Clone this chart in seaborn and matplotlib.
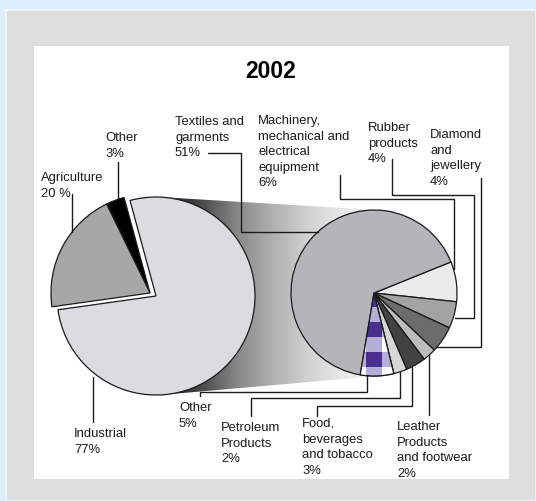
import numpy as np
import matplotlib
matplotlib.use("Agg")
import matplotlib.pyplot as plt
import matplotlib.patches as mpatches
from matplotlib.colors import to_rgb
import seaborn as sns

# ---------------------------------------------------------------- data
title = "2002"

# Economy by sector (outer pie), counter-clockwise order
sector_names = ["Industrial", "Other", "Agriculture"]
sector_share = [77, 3, 20]
sector_pct_fmt = ["{}%", "{}%", "{} %"]

# Industrial breakdown (pie of pie), clockwise order
industry_names = [
    "Machinery,\nmechanical and\nelectrical\nequipment",
    "Rubber\nproducts",
    "Diamond\nand\njewellery",
    "Leather\nProducts\nand footwear",
    "Food,\nbeverages\nand tobacco",
    "Petroleum\nProducts",
    "Other",
    "Textiles and\ngarments",
]
industry_share = [6, 4, 4, 2, 3, 2, 5, 51]

# ---------------------------------------------------------------- style
sns.set_theme(style="white")
plt.rcParams["font.family"] = ["Liberation Sans", "DejaVu Sans"]

W, H = 536, 502
EDGE = "#1a1a1a"
TEXT = "#1a1a1a"

sector_colors = ["#dcdce0", "#000000", "#a7a7a7"]
industry_colors = ["#ebebeb", "#a3a3a3", "#6c6c6c", "#bdbdbd",
                   "#424242", "#d6d6d6", "#ffffff", "#b5b4b9"]


def P(x, y):
    """Canvas position measured from the top-left corner."""
    return (x, H - y)


fig = plt.figure(figsize=(W / 100, H / 100), dpi=100)
fig.patch.set_facecolor("#dbeefb")
ax = fig.add_axes([0, 0, 1, 1])
ax.set_axis_off()

# frame panels
ax.add_patch(mpatches.Rectangle((6, 0), W - 6, H - 11, facecolor="#dedede",
                                edgecolor="#f4f8fb", lw=1.2, zorder=0))
ax.add_patch(mpatches.Rectangle((34, H - 480), 475, 433, facecolor="white",
                                edgecolor="none", zorder=0.1))

# pie geometry
c1 = P(156, 297)
r1 = 99
c2 = P(374, 294)
r2 = 83

# shaded connector band: outer tangents of the two circles, closed along
# the right-hand arc of the big pie
d = np.array(c2) - np.array(c1)
L = np.hypot(*d)
u = d / L
perp = np.array([-u[1], u[0]])
k = (r1 - r2) / L
s = np.sqrt(1 - k ** 2)
n_top = k * u + s * perp
n_bot = k * u - s * perp
t1_top = np.array(c1) + r1 * n_top
t2_top = np.array(c2) + r2 * n_top
t2_bot = np.array(c2) + r2 * n_bot
a_top = np.arctan2(n_top[1], n_top[0])
a_bot = np.arctan2(n_bot[1], n_bot[0])
arc_t = np.linspace(a_bot, a_top, 80)
arc = np.column_stack([c1[0] + r1 * np.cos(arc_t), c1[1] + r1 * np.sin(arc_t)])
band_pts = np.vstack([t1_top, t2_top, t2_bot, arc])
band = mpatches.Polygon(band_pts, closed=True, facecolor="none",
                        edgecolor="none")
ax.add_patch(band)
gx = np.arange(140, 380) + 0.5
gray = np.interp(gx, [180, 200, 240, 273, 307, 340, 375],
                 [0.18, 0.28, 0.55, 0.69, 0.82, 0.90, 0.95])
img = ax.imshow(gray[np.newaxis, :], cmap="gray", vmin=0, vmax=1,
                extent=(140, 380, H - 400, H - 195), aspect="auto",
                interpolation="bilinear", zorder=0.8)
img.set_clip_path(band)

wprops = dict(edgecolor=EDGE, linewidth=0.9)

# ---------------------------------------------------------------- outer pie
main_w, _ = ax.pie(sector_share, colors=sector_colors, startangle=-172,
                   center=c1, radius=r1, wedgeprops=wprops)
for w in main_w[1:]:
    w.set_visible(False)
# Other + Agriculture pulled out together
c1x = (c1[0] - 6, c1[1] + 3)
out_w, _ = ax.pie(sector_share, colors=sector_colors, startangle=-172,
                  center=c1x, radius=r1, wedgeprops=wprops)
out_w[0].set_visible(False)

# ---------------------------------------------------------------- pie of pie
sub_w, _ = ax.pie(industry_share, colors=industry_colors, startangle=22,
                  counterclock=False, center=c2, radius=r2, wedgeprops=wprops)

# gingham fill for the "Other" industrial slice
ow = sub_w[6]
x0, x1, y0, y1 = 340, 400, 285, 382
xs = np.arange(x0, x1) + 0.5
ys = np.arange(y0, y1) + 0.5
level = (((xs - 366) % 30) < 16)[None, :].astype(int) + \
        (((ys - 293) % 30) < 15)[:, None].astype(int)
palette = np.array([to_rgb("#ffffff"), to_rgb("#b5aed8"), to_rgb("#4b2f8f")])
tex = ax.imshow(palette[level], extent=(x0, x1, H - y1, H - y0),
                origin="upper", interpolation="nearest", aspect="auto",
                zorder=1.2)
tex.set_clip_path(ow)
ax.add_patch(mpatches.Wedge(ow.center, ow.r, ow.theta1, ow.theta2, fill=False,
                            edgecolor=EDGE, linewidth=0.9, zorder=1.3))

# ---------------------------------------------------------------- labels
FS = 9.4
LS = 1.39

sector_label_pos = [(74, 428), (105, 132), (41, 172)]
for name, v, fmt, (lx, ly) in zip(sector_names, sector_share, sector_pct_fmt,
                                  sector_label_pos):
    ax.text(lx, H - ly, name + "\n" + fmt.format(v), ha="left", va="top",
            fontsize=FS, linespacing=LS, color=TEXT, zorder=4)

industry_label_pos = [(258, 115), (368, 122), (430, 129), (397, 421),
                      (302, 418), (221, 422), (179, 402), (175, 116)]
for name, v, (lx, ly) in zip(industry_names, industry_share,
                             industry_label_pos):
    ax.text(lx, H - ly, f"{name}\n{v}%", ha="left", va="top",
            fontsize=FS, linespacing=LS, color=TEXT, zorder=4)

ax.text(271, H - 71, title, ha="center", va="center", fontsize=16.5,
        fontweight="bold", color="black", zorder=4)

# leader lines
leaders = [
    [(93, 378), (93, 423)],                                   # Industrial
    [(118, 163), (118, 200)],                                 # Other 3%
    [(72, 195), (72, 233)],                                   # Agriculture
    [(208, 154), (241, 154), (241, 233), (318, 233)],         # Textiles
    [(340, 176), (340, 200), (454, 200), (454, 270)],         # Machinery
    [(392, 160), (392, 196), (474, 196), (474, 319), (455, 319)],  # Rubber
    [(481, 179), (481, 348), (436, 348)],                     # Diamond
    [(200, 397), (200, 393), (367, 393), (367, 377)],         # Other 5%
    [(251, 417), (251, 399), (400, 399), (400, 373)],         # Petroleum
    [(317, 417), (317, 407), (412, 407), (412, 368)],         # Food
    [(429, 416), (429, 356)],                                 # Leather
]
for pts in leaders:
    xs_, ys_ = zip(*[P(px, py) for px, py in pts])
    ax.plot(xs_, ys_, color=EDGE, lw=1.0, solid_joinstyle="miter", zorder=3)

ax.set_xlim(0, W)
ax.set_ylim(0, H)
ax.set_aspect("equal")
fig.savefig("out.png", dpi=100, facecolor=fig.get_facecolor())
